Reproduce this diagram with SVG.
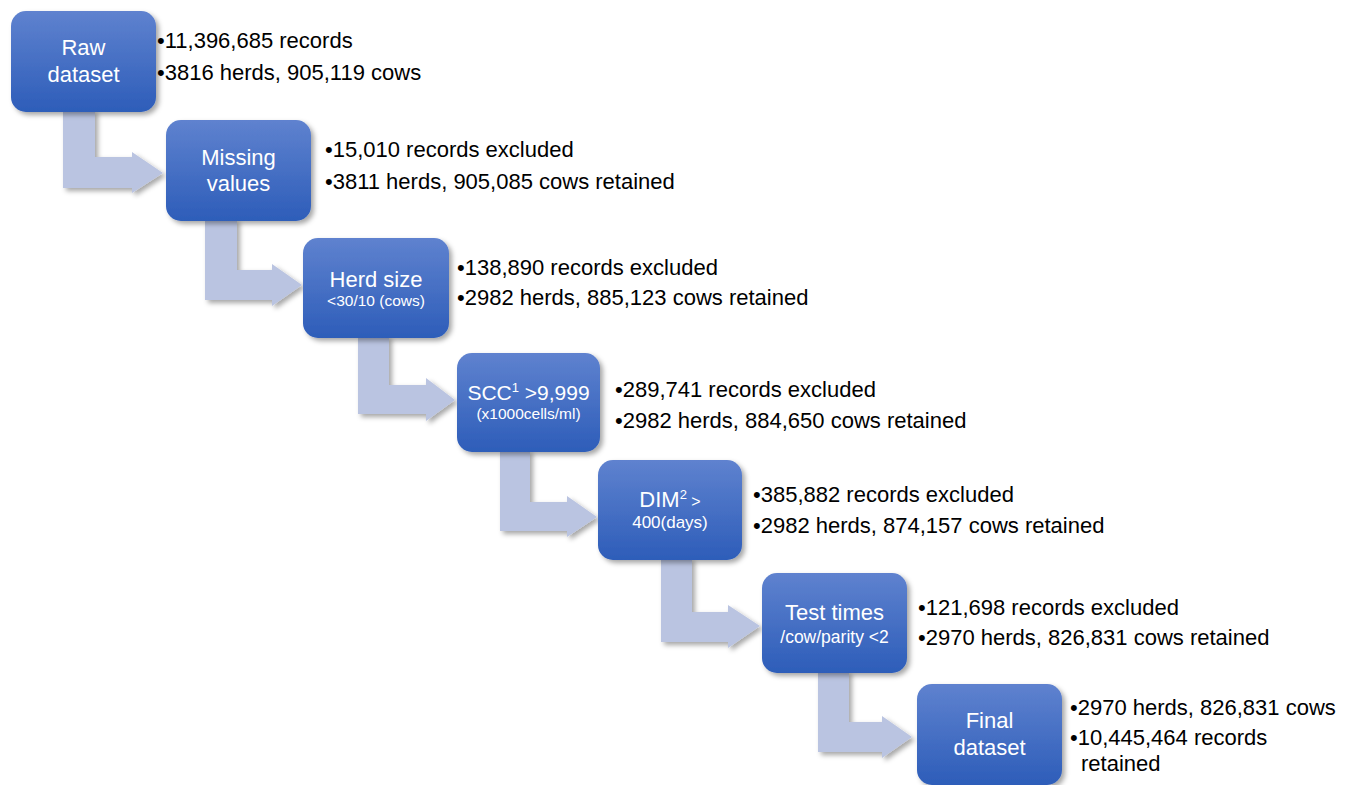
<svg xmlns="http://www.w3.org/2000/svg" width="1349" height="785" viewBox="0 0 1349 785">
<defs>
<linearGradient id="boxg" x1="0" y1="0" x2="0" y2="1">
<stop offset="0" stop-color="#5f82cf"/>
<stop offset="1" stop-color="#2d5db9"/>
</linearGradient>
<filter id="sh" x="-20%" y="-20%" width="140%" height="140%">
<feDropShadow dx="3" dy="3" stdDeviation="2.5" flood-color="#000" flood-opacity="0.35"/>
</filter>
</defs>
<style>
.box{fill:url(#boxg);filter:url(#sh);}
.arr{fill:#bac4e1;filter:url(#sh);}
.bt{fill:#ffffff;font-family:"Liberation Sans",Arial,sans-serif;font-size:22px;text-anchor:middle;}
.bs{fill:#ffffff;font-family:"Liberation Sans",Arial,sans-serif;font-size:15.5px;text-anchor:middle;}
.t{fill:#000000;font-family:"Liberation Sans",Arial,sans-serif;font-size:22px;}
</style>
<rect width="1349" height="785" fill="#ffffff"/>
<g id="connectors">
<polygon class="arr" points="63,110 95,110 95,157 132,157 132,152 163,173 132,193 132,188 63,188"/>
<polygon class="arr" points="205,219 237,219 237,270 272,270 272,264 302,285 272,306 272,300 205,300"/>
<polygon class="arr" points="358,336 389,336 389,385 426,385 426,378 455,400 426,421 426,414 358,414"/>
<polygon class="arr" points="500,450 530,450 530,502 567,502 567,496 597,517 567,537 567,531 500,531"/>
<polygon class="arr" points="661,558 692,558 692,612 728,612 728,605 760,626 728,648 728,642 661,642"/>
<polygon class="arr" points="818,671 849,671 849,722 882,722 882,716 912,737 882,758 882,752 818,752"/>
</g>
<g id="raw">
<rect class="box" x="11" y="11" width="145" height="101" rx="15"/>
<text class="bt" x="83.5" y="55">Raw</text>
<text class="bt" x="83.5" y="82">dataset</text>
<text class="t" x="157" y="48">•11,396,685 records</text>
<text class="t" x="157" y="80">•3816 herds, 905,119 cows</text>
</g>
<g id="missing">
<rect class="box" x="166" y="120" width="145" height="101" rx="15"/>
<text class="bt" x="238.5" y="165">Missing</text>
<text class="bt" x="238.5" y="191">values</text>
<text class="t" x="325" y="157">•15,010 records excluded</text>
<text class="t" x="325" y="189">•3811 herds, 905,085 cows retained</text>
</g>
<g id="herdsize">
<rect class="box" x="303" y="238" width="146" height="100" rx="15"/>
<text class="bt" x="376" y="287">Herd size</text>
<text class="bs" x="376" y="306">&lt;30/10 (cows)</text>
<text class="t" x="457" y="275">•138,890 records excluded</text>
<text class="t" x="457" y="305">•2982 herds, 885,123 cows retained</text>
</g>
<g id="scc">
<rect class="box" x="457" y="353" width="143" height="99" rx="15"/>
<text class="bt" x="528.5" y="400" style="font-size:21px">SCC<tspan style="font-size:13px" dy="-8">1</tspan><tspan dy="8"> &gt;9,999</tspan></text>
<text class="bs" x="528.5" y="419">(x1000cells/ml)</text>
<text class="t" x="615" y="397">•289,741 records excluded</text>
<text class="t" x="615" y="428">•2982 herds, 884,650 cows retained</text>
</g>
<g id="dim">
<rect class="box" x="598" y="460" width="144" height="100" rx="15"/>
<text class="bt" x="670" y="507">DIM<tspan style="font-size:13px" dy="-8">2</tspan><tspan dy="8" style="font-size:16px"> &gt;</tspan></text>
<text class="bs" x="670" y="528" style="font-size:17px">400(days)</text>
<text class="t" x="753" y="502">•385,882 records excluded</text>
<text class="t" x="753" y="533">•2982 herds, 874,157 cows retained</text>
</g>
<g id="testtimes">
<rect class="box" x="762" y="573" width="145" height="100" rx="15"/>
<text class="bt" x="834.5" y="620">Test times</text>
<text class="bs" x="834.5" y="643" style="font-size:17.5px">/cow/parity &lt;2</text>
<text class="t" x="918" y="615">•121,698 records excluded</text>
<text class="t" x="918" y="645">•2970 herds, 826,831 cows retained</text>
</g>
<g id="final">
<rect class="box" x="917" y="684" width="145" height="101" rx="15"/>
<text class="bt" x="989.5" y="728">Final</text>
<text class="bt" x="989.5" y="755">dataset</text>
<text class="t" x="1070" y="715">•2970 herds, 826,831 cows</text>
<text class="t" x="1070" y="745">•10,445,464 records</text>
<text class="t" x="1081" y="771">retained</text>
</g>
</svg>
